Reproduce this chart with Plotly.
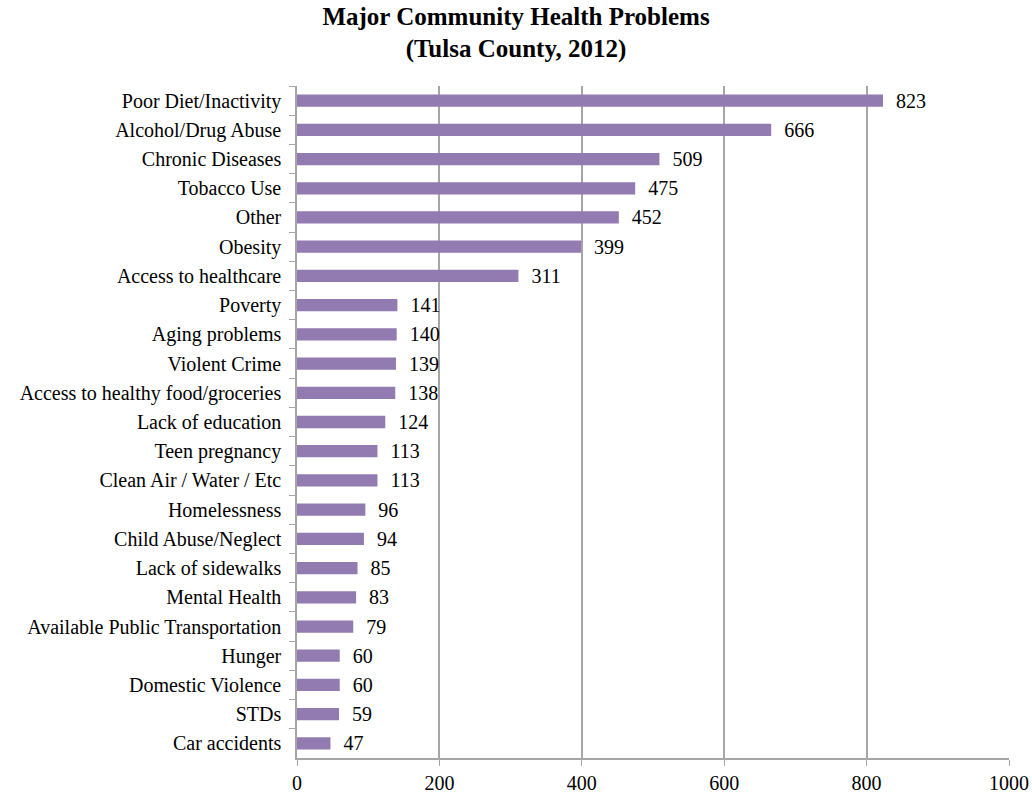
import plotly.graph_objects as go

problems = [
    "Poor Diet/Inactivity", "Alcohol/Drug Abuse", "Chronic Diseases", "Tobacco Use",
    "Other", "Obesity", "Access to healthcare", "Poverty", "Aging problems",
    "Violent Crime", "Access to healthy food/groceries", "Lack of education",
    "Teen pregnancy", "Clean Air / Water / Etc", "Homelessness", "Child Abuse/Neglect",
    "Lack of sidewalks", "Mental Health", "Available Public Transportation", "Hunger",
    "Domestic Violence", "STDs", "Car accidents",
]
counts = [823, 666, 509, 475, 452, 399, 311, 141, 140, 139, 138, 124,
          113, 113, 96, 94, 85, 83, 79, 60, 60, 59, 47]

font = "Liberation Serif, Times New Roman, serif"

fig = go.Figure(go.Bar(
    x=counts, y=problems, orientation="h",
    marker=dict(color="#917bb0", line=dict(width=0)),
    width=0.42,
    text=counts, texttemplate="\u00a0\u00a0%{x}", textposition="outside",
    constraintext="none",
    textfont=dict(family=font, size=20, color="black"),
    cliponaxis=False,
))

fig.update_layout(
    width=1032, height=797,
    paper_bgcolor="white", plot_bgcolor="white",
    margin=dict(l=297, r=23, t=86, b=39, autoexpand=False),
    title=dict(
        text="<b>Major Community Health Problems<br>(Tulsa County, 2012)</b>",
        x=0.5, xanchor="center", xref="container",
        y=0.969, yanchor="middle", yref="container",
        font=dict(family=font, size=25, color="black"),
        automargin=False,
    ),
    font=dict(family=font, size=20, color="black"),
    showlegend=False,
)
fig.update_xaxes(
    range=[0, 1000], dtick=200, showgrid=True, gridcolor="#a6a6a6", gridwidth=1.5,
    showline=True, linecolor="#a6a6a6", linewidth=1.5,
    ticks="outside", ticklen=6, tickcolor="#a6a6a6",
    tickfont=dict(family=font, size=20), zeroline=False, automargin=False,
)
fig.update_yaxes(
    autorange="reversed", showgrid=False,
    showline=True, linecolor="#a6a6a6", linewidth=1.5,
    ticks="outside", tickson="boundaries", ticklen=6, tickcolor="#a6a6a6",
    ticklabelstandoff=10, tickfont=dict(family=font, size=20), automargin=False,
)

fig.write_html("out.html", config={"displayModeBar": False},
               post_script="document.body.style.margin='0';")
